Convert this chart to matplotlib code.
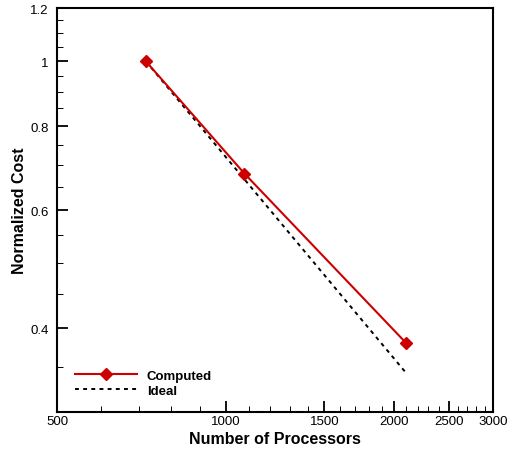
import matplotlib
matplotlib.use("Agg")
import matplotlib.pyplot as plt
from matplotlib.ticker import FixedLocator, NullFormatter, FixedFormatter

plt.rcParams['font.family'] = ['Liberation Sans', 'DejaVu Sans']

procs = [720, 1080, 2100]
computed = [1.0, 0.68, 0.38]
ideal = [1.0, 720/1080, 720/2100]

xticks = [500, 1000, 1500, 2000, 2500, 3000]
xminor = [600, 700, 800, 900, 1100, 1200, 1300, 1400, 1600, 1700, 1800, 1900,
          2100, 2200, 2300, 2400, 2600, 2700, 2800, 2900]
yticks = [0.4, 0.6, 0.8, 1.0, 1.2]
ytick_labels = ['0.4', '0.6', '0.8', '1', '1.2']
yminor = [0.3, 0.35, 0.45, 0.5, 0.55, 0.65, 0.7, 0.75, 0.85, 0.9, 0.95, 1.05, 1.1, 1.15]

fig = plt.figure(figsize=(5.09, 4.52), dpi=100)
ax = fig.add_axes([57/509, 1-413/452, (493-57)/509, (413-9)/452])

ax.plot(procs, computed, color='#cc0000', lw=1.5, marker='D', ms=6.5,
        mfc='#cc0000', mec='#cc0000', label='Computed', zorder=3)
ax.plot(procs, ideal, color='black', lw=1.4, ls=(0, (2.0, 2.2)), label='Ideal', zorder=2)

ax.set_xscale('log')
ax.set_yscale('log')
ax.set_xlim(500, 3000)
ax.set_ylim(0.3, 1.2)

ax.xaxis.set_major_locator(FixedLocator(xticks))
ax.xaxis.set_major_formatter(FixedFormatter([str(v) for v in xticks]))
ax.xaxis.set_minor_locator(FixedLocator(xminor))
ax.xaxis.set_minor_formatter(NullFormatter())
ax.yaxis.set_major_locator(FixedLocator(yticks))
ax.yaxis.set_major_formatter(FixedFormatter(ytick_labels))
ax.yaxis.set_minor_locator(FixedLocator(yminor))
ax.yaxis.set_minor_formatter(NullFormatter())

ax.tick_params(which='major', direction='in', length=8, width=1.3, labelsize=9.5)
ax.tick_params(axis='x', which='major', pad=2)
ax.tick_params(axis='y', which='major', pad=6)
ax.tick_params(which='minor', direction='in', length=4, width=0.7)
ax.tick_params(top=False, right=False)

for s in ax.spines.values():
    s.set_linewidth(1.5)

ax.set_xlabel('Number of Processors', fontsize=11.5, fontweight='bold', labelpad=3)
ax.set_ylabel('Normalized Cost', fontsize=11.5, fontweight='bold', labelpad=2)

ax.legend(loc='lower left', bbox_to_anchor=(0.041, 0.037), frameon=False,
          borderaxespad=0, borderpad=0,
          handlelength=4.7, handletextpad=0.75, labelspacing=0.25,
          prop={'weight': 'bold', 'size': 9.5})

fig.savefig('out.png', dpi=100)
